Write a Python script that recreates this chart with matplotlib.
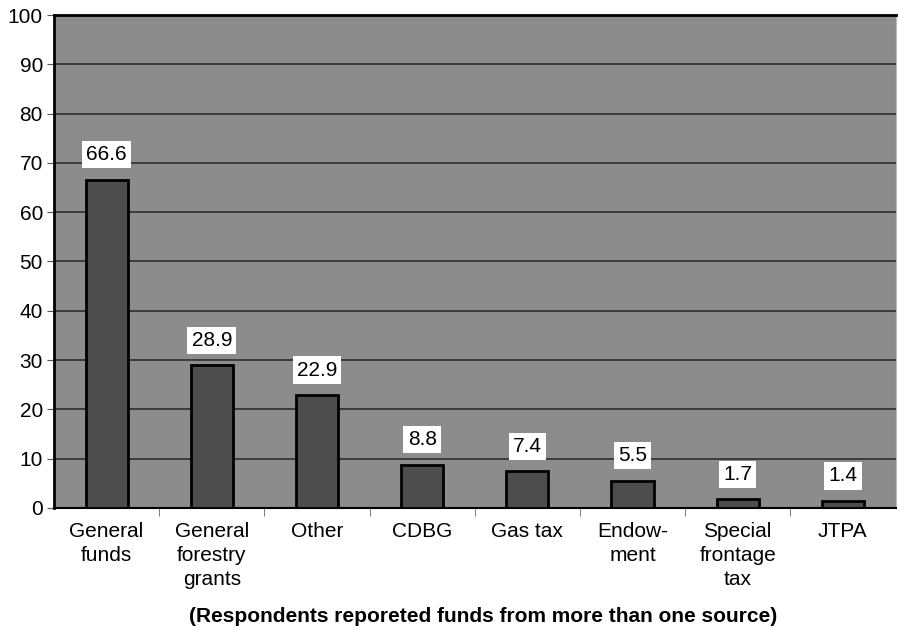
import matplotlib.pyplot as plt

categories = ["General\nfunds", "General\nforestry\ngrants", "Other", "CDBG",
              "Gas tax", "Endow-\nment", "Special\nfrontage\ntax", "JTPA"]
values = [66.6, 28.9, 22.9, 8.8, 7.4, 5.5, 1.7, 1.4]
y_ticks = list(range(0, 101, 10))

plt.rcParams["font.family"] = ["Liberation Sans", "DejaVu Sans"]

fig = plt.figure(figsize=(9, 6.27), dpi=100)
ax = fig.add_axes([0.06, 0.19, 0.935, 0.786])
ax.set_facecolor("#8c8c8c")

x = list(range(len(categories)))
ax.bar(x, values, width=0.4, color="#4d4d4d", edgecolor="black", linewidth=2, zorder=3)

for xi, v in zip(x, values):
    ax.annotate(f"{v}", (xi, v), xytext=(0, 18), textcoords="offset points",
                ha="center", va="center", fontsize=15, zorder=4,
                bbox=dict(boxstyle="square,pad=0.2", fc="white", ec="none"))

ax.set_xlim(-0.5, len(categories) - 0.5)
ax.set_ylim(0, 100)
ax.set_yticks(y_ticks)
ax.set_yticklabels([str(t) for t in y_ticks], fontsize=15)
ax.yaxis.grid(True, color="#2e2e2e", linewidth=1.2, zorder=1)
ax.set_axisbelow(True)

ax.set_xticks(x)
ax.set_xticklabels(categories, fontsize=15, va="top", linespacing=1.35)
ax.tick_params(axis="x", length=0, pad=10)
ax.set_xticks([i + 0.5 for i in x[:-1]], minor=True)
ax.tick_params(axis="x", which="minor", length=6, color="#666666")
ax.tick_params(axis="y", length=5, pad=3, color="#555555")

for side in ["left", "top"]:
    ax.spines[side].set_linewidth(2)
ax.spines["bottom"].set_linewidth(1.5)
ax.spines["right"].set_color("#bbbbbb")

fig.text(483 / 900, 1 - 616 / 627,
         "(Respondents reporeted funds from more than one source)",
         fontsize=15, fontweight="bold", ha="center", va="center")

fig.savefig("out.png", dpi=100)
